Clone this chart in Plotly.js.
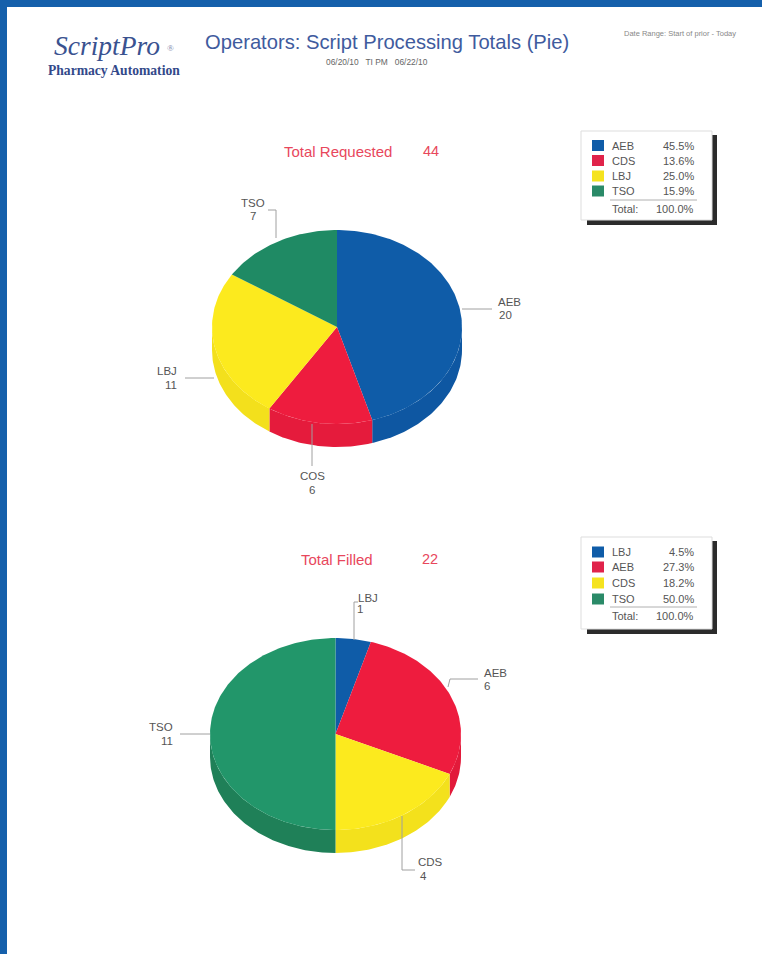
<!DOCTYPE html>
<html><head><meta charset="utf-8">
<script src="https://cdn.plot.ly/plotly-3.0.1.min.js"></script>
<style>html,body{margin:0;padding:0;background:#fff}#c{width:762px;height:954px}</style>
</head><body><div id="c"></div>
<script>
// Data
const requestedNames = ['AEB','CDS','LBJ','TSO'];
const requestedValues = [20,6,11,7];
const requestedPct = ['45.5%','13.6%','25.0%','15.9%'];
const requestedLabelNames = ['AEB','COS','LBJ','TSO'];
const filledNames = ['LBJ','AEB','CDS','TSO'];
const filledValues = [1,6,4,11];
const filledPct = ['4.5%','27.3%','18.2%','50.0%'];
const sliceColors = ['#0f5ca8','#ee1c3e','#fcea1e','#1f8a64'];
const sideColors  = ['#0e57a2','#e51b3c','#f3e01c','#1b7f58'];
const filledTopColors = ['#0f5ca8','#ee1c3e','#fcea1e','#22966a'];
const filledSideColors = ['#0d54a0','#e21a3a','#f3e11c','#1f8058'];
const legendColors = ['#0f5ca8','#e0234a','#f5e31e','#2a8a68'];

const ink='#555555', pink='#e8475c', navy='#3f5b9e', band='#1560ab';
const traces=[], shapes=[], annos=[];

function txt(x,y,text,opt){annos.push(Object.assign({x,y,text,xref:'x',yref:'y',showarrow:false,
  xanchor:'center',yanchor:'middle',font:{family:'Liberation Sans, Arial, sans-serif',size:11,color:ink}},opt||{}));}
function rect(x0,y0,x1,y1,fill,line){shapes.push({type:'rect',xref:'x',yref:'y',x0,y0,x1,y1,fillcolor:fill,
  line:line?{color:line,width:1}:{width:0},layer:'below'});}
function leader(pts){traces.push({type:'scatter',mode:'lines',x:pts.map(p=>p[0]),y:pts.map(p=>p[1]),
  line:{color:'#a0a0a0',width:1},hoverinfo:'skip',showlegend:false});}

function pie3d(names,values,top,side,cx,cy,rx,ry,depth){
  const tot=values.reduce((a,b)=>a+b,0);
  const px=t=>cx+rx*Math.sin(t*Math.PI/180), py=t=>cy-ry*Math.cos(t*Math.PI/180);
  let a=0; const wedges=values.map((v,i)=>{const w={i,a0:a,a1:a+v/tot*360};a=w.a1;return w;});
  wedges.forEach(w=>{
    const s=Math.max(w.a0,90), e=Math.min(w.a1,270);
    if(e<=s) return;
    const xs=[],ys=[];
    for(let t=s;t<e;t+=1){xs.push(px(t));ys.push(py(t));} xs.push(px(e));ys.push(py(e));
    for(let t=e;t>s;t-=1){xs.push(px(t));ys.push(py(t)+depth);} xs.push(px(s));ys.push(py(s)+depth);
    traces.push({type:'scatter',mode:'lines',x:xs,y:ys,fill:'toself',fillcolor:side[w.i],line:{width:0,color:side[w.i]},
      name:names[w.i],hoverinfo:'skip',showlegend:false});
  });
  wedges.forEach(w=>{
    const xs=[cx],ys=[cy];
    for(let t=w.a0;t<w.a1;t+=1){xs.push(px(t));ys.push(py(t));}
    xs.push(px(w.a1));ys.push(py(w.a1));xs.push(cx);ys.push(cy);
    traces.push({type:'scatter',mode:'lines',x:xs,y:ys,fill:'toself',fillcolor:top[w.i],line:{width:0,color:top[w.i]},
      name:names[w.i],text:names[w.i]+': '+values[w.i],hoverinfo:'text',showlegend:false});
  });
}
function legend(x0,y0,x1,y1,rows,names,pct,colors,lineY,totY){
  rect(x0+6,y0+4,x1+5,y1+5,'#2b2b2b');
  rect(x0,y0,x1,y1,'#ffffff','#dddddd');
  names.forEach((n,i)=>{
    rect(x0+11,rows[i]-5.5,x0+23,rows[i]+5.5,colors[i]);
    txt(x0+29,rows[i],n,{xanchor:'left'});
    txt(x0+115,rows[i],pct[i],{xanchor:'right'});
  });
  shapes.push({type:'line',xref:'x',yref:'y',x0:x0+29,x1:x0+116,y0:lineY,y1:lineY,line:{color:'#b0b0b0',width:1},layer:'below'});
  txt(x0+29,totY,'Total:',{xanchor:'left'});
  txt(x0+115,totY,'100.0%',{xanchor:'right'});
}

// Page frame
rect(0,0,762,7,band); rect(0,0,7,954,band);

// Header
txt(52,45,'<i>ScriptPro</i>',{xanchor:'left',font:{family:'Liberation Serif, serif',size:27.5,color:'#3a5290'}});
txt(170,48,'®',{font:{family:'Liberation Serif, serif',size:9,color:'#7a86aa'}});
txt(114,70,'<b>Pharmacy Automation</b>',{font:{family:'Liberation Serif, serif',size:13.6,color:'#33498a'}});
txt(387,42,'Operators: Script Processing Totals (Pie)',{font:{family:'Liberation Sans, Arial, sans-serif',size:20.2,color:navy}});
txt(377,62,'06/20/10 &nbsp; TI PM &nbsp; 06/22/10',{font:{family:'Liberation Sans, Arial, sans-serif',size:8.4,color:'#666'}});
txt(738,33,'Date Range: Start of prior - Today',{xanchor:'right',font:{family:'Liberation Sans, Arial, sans-serif',size:7.5,color:'#888'}});

// Top chart
txt(337.5,151,'Total Requested',{font:{family:'Liberation Sans, Arial, sans-serif',size:15,color:pink}});
txt(431,151,'44',{font:{family:'Liberation Sans, Arial, sans-serif',size:14.5,color:pink}});
pie3d(requestedNames,requestedValues,sliceColors,sideColors,337,327,125,97,23);
const lab={font:{family:'Liberation Sans, Arial, sans-serif',size:11.5,color:ink}};
leader([[462,309],[492,309]]); txt(509,302,requestedLabelNames[0],lab); txt(505,315,String(requestedValues[0]),lab);
leader([[312,424],[312,466]]); txt(312,476,requestedLabelNames[1],lab); txt(312,490,String(requestedValues[1]),lab);
leader([[185,378],[214,378]]); txt(167,371,requestedLabelNames[2],lab); txt(171,385,String(requestedValues[2]),lab);
leader([[268,210],[276,210],[276,238]]); txt(253,203,requestedLabelNames[3],lab); txt(253,216,String(requestedValues[3]),lab);
legend(581,131,712,220,[145.5,160.5,176,191],requestedNames,requestedPct,legendColors,200,209);

// Bottom chart
txt(337,559,'Total Filled',{font:{family:'Liberation Sans, Arial, sans-serif',size:15,color:pink}});
txt(430,559,'22',{font:{family:'Liberation Sans, Arial, sans-serif',size:14.5,color:pink}});
pie3d(filledNames,filledValues,filledTopColors,filledSideColors,335.5,734,125.5,96,23);
leader([[354,640],[354,602],[358,602]]); txt(368,598,filledNames[0],lab); txt(360,609,String(filledValues[0]),lab);
leader([[448,687],[450,679],[478,679]]); txt(495,673,filledNames[1],lab); txt(487,686,String(filledValues[1]),lab);
leader([[402,816],[402,870],[415,870]]); txt(430,862,filledNames[2],lab); txt(423,876,String(filledValues[2]),lab);
leader([[180,734],[210,734]]); txt(161,727,filledNames[3],lab); txt(167,741,String(filledValues[3]),lab);
legend(581,537,712,629,[552,567,583,599],filledNames,filledPct,legendColors,607,616);

const hidden={visible:false,fixedrange:true};
Plotly.newPlot('c',traces,{
  width:762,height:954,margin:{l:0,r:0,t:0,b:0},showlegend:false,
  paper_bgcolor:'#ffffff',plot_bgcolor:'#ffffff',hovermode:'closest',
  xaxis:Object.assign({range:[0,762]},hidden),
  yaxis:Object.assign({range:[954,0]},hidden),
  shapes,annotations:annos
},{displayModeBar:false});
</script></body></html>
